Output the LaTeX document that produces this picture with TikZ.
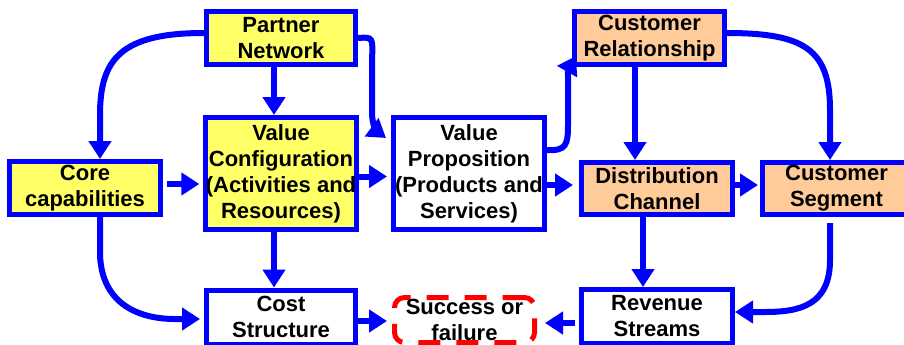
\documentclass[tikz,border=0pt]{standalone}
\usepackage{fontspec}
\setmainfont{Liberation Sans}
\usetikzlibrary{arrows.meta,calc}
\definecolor{boxblue}{RGB}{0,0,255}
\definecolor{yel}{RGB}{255,255,102}
\definecolor{org}{RGB}{255,204,153}
\begin{document}
\begin{tikzpicture}[x=1pt,y=-1pt,
  box/.style={draw=boxblue,line width=5pt,inner sep=0pt,align=center,
    font=\fontsize{22}{26}\selectfont\bfseries},
  yb/.style={box,fill=yel},
  ob/.style={box,fill=org},
  wb/.style={box,fill=white},
  arr/.style={draw=boxblue,line width=6pt,-{Triangle[length=18pt,width=22pt]}},
]
\clip (0,0) rectangle (904,345);
\fill[white] (0,0) rectangle (904,345);
% nodes
\node[yb,minimum width=149pt,minimum height=53pt] (pn) at (281,38) {Partner\\Network};
\node[yb,minimum width=149pt,minimum height=112pt] (vc) at (281,173.5) {Value\\Configuration\\(Activities and\\Resources)};
\node[yb,minimum width=151pt,minimum height=53pt] (core) at (85,188) {Core\\capabilities};
\node[wb,minimum width=149pt,minimum height=54pt] (cost) at (281,317) {Cost\\Structure};
\node[wb,minimum width=151pt,minimum height=112pt] (vp) at (469,173.5) {Value\\Proposition\\(Products and\\Services)};
\node[ob,minimum width=150pt,minimum height=53pt] (cr) at (649.5,38) {Customer\\Relationship};
\node[ob,minimum width=151pt,minimum height=52pt] (dc) at (657,188.5) {Distribution\\Channel};
\node[ob,minimum width=148pt,minimum height=52pt] (cs) at (836.5,188.5) {Customer\\Segment};
\node[wb,minimum width=151pt,minimum height=54pt] (rs) at (657,316.5) {Revenue\\Streams};
\node[draw=red,line width=5pt,dash pattern=on 22pt off 16pt,rounded corners=10pt,
  minimum width=140pt,minimum height=45pt,inner sep=0pt,align=center,
  font=\fontsize{22}{26}\selectfont\bfseries] (succ) at (464.5,320) {Success or\\failure};
% connectors
\draw[arr] ($(pn.west)+(0,-5)$) .. controls (120,33) and (100,60) .. (100,115) -- ($(core.north)+(15,0)$);
\draw[arr] ($(pn.south)+(-7,0)$) -- ($(vc.north)+(-7,0)$);
\draw[arr] (pn.east) .. controls (373,37) .. (372,60) -- (372,112) .. controls (372,127) and (378,132) .. ($(vp.north west)+(-5,23)$);
\draw[arr] ($(core.east)+(4,-4)$) -- ($(core.east -| vc.west)+(-4,-4)$);
\draw[arr] ($(vc.east)+(0,3)$) -- ($(vp.west)+(-4,3)$);
\draw[arr] ($(vc.south)+(-7,0)$) -- ($(cost.north)+(-7,0)$);
\draw[arr] ($(core.south)+(15,0)$) -- (100,255) .. controls (102,305) and (140,319) .. (175,319) -- ($(cost.west)+(-4,2)$);
\draw[arr] ($(cost.east)+(0,4)$) -- ($(cost.east -| succ.west)+(-5,4)$);
\draw[arr] ($(vp.east)+(0,-23.5)$) .. controls (566,151) and (568,145) .. (568,125) -- (568,85) .. controls (568,70) .. ($(cr.south west)+(4,-11)$);
\draw[arr] ($(cr.south west)+(63,0)$) -- ($(cr.south west |- dc.north)+(63,0)$);
\draw[arr] ($(cr.east)+(0,-5)$) .. controls (805,33) and (830,50) .. (830,110) -- ($(cs.north)+(-6.5,0)$);
\draw[arr] ($(vp.east)+(0,11.5)$) -- ($(vp.east -| dc.west)+(-6,11.5)$);
\draw[arr] ($(dc.east)+(0,-3.5)$) -- ($(dc.east -| cs.west)+(-2,-3.5)$);
\draw[arr] ($(dc.south)+(-14,0)$) -- ($(rs.north)+(-14,0)$);
\draw[arr] ($(cs.south)+(-6.5,6)$) -- (830,260) .. controls (830,305) and (800,312) .. (765,312) -- ($(rs.east)+(0,-4.5)$);
\draw[arr] ($(rs.west)+(-4,6.5)$) -- ($(rs.west -| succ.east)+(8,6.5)$);
\end{tikzpicture}
\end{document}
